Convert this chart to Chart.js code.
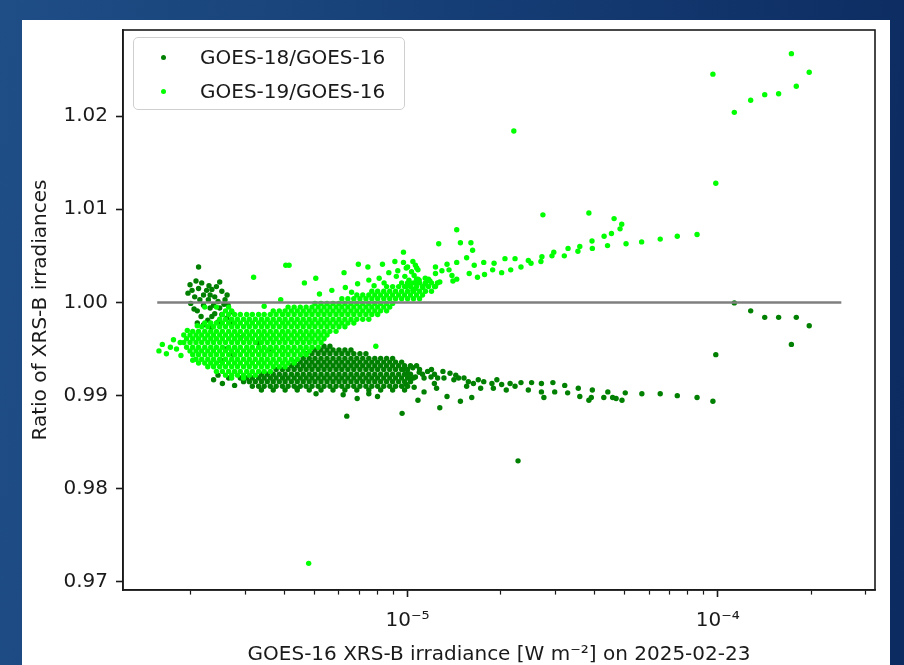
<!DOCTYPE html>
<html>
<head>
<meta charset="utf-8">
<script src="https://cdn.jsdelivr.net/npm/chart.js@4.4.1/dist/chart.umd.min.js"></script>
<style>
  html, body { margin: 0; padding: 0; }
  body {
    width: 904px; height: 665px; overflow: hidden; position: relative;
    background: linear-gradient(95deg, #1f4d85 0%, #163f77 45%, #0c2b60 100%);
  }
  #panel { position: absolute; left: 22px; top: 20px; width: 868px; height: 645px; background: #fff; }
  #chart { position: absolute; left: 0; top: 0; }
  #legend {
    position: absolute; left: 111px; top: 17px; width: 272px; height: 73px;
    box-sizing: border-box; border: 1px solid #cfcfcf; border-radius: 5px;
    background: rgba(255,255,255,0.8);
    font-family: "DejaVu Sans", sans-serif; font-size: 20px; color: #1a1a1a;
  }
  #legend .item { position: absolute; left: 0; width: 100%; height: 24px; line-height: 24px; }
  #legend .dot { position: absolute; left: 27px; top: 10px; width: 5px; height: 5px; border-radius: 50%; }
  #legend .txt { position: absolute; left: 66px; top: 0; white-space: nowrap; }
</style>
</head>
<body>
<div id="panel">
  <canvas id="chart" width="868" height="645"></canvas>
  <div id="legend"></div>
</div>
<script>
// irradiance values below are in units of 1e-6 W m^-2
const xUnit = 1e-6;

// GOES-18/GOES-16, dense band read row by row: [ratio, [irradiances]]
const goes18Rows = [
  [0.9953, [5.38, 5.62]],
  [0.9949, [5.03, 5.26, 5.50, 5.75, 6.01, 6.28, 6.57]],
  [0.9945, [4.71, 4.92, 5.15, 5.38, 5.62, 5.88, 6.14, 6.42, 6.71, 7.02, 7.34]],
  [0.9940, [4.61, 4.82, 5.03, 5.26, 5.50, 5.75, 6.01, 6.28, 6.57, 6.86, 7.17, 7.50, 7.84, 8.19, 8.56, 8.95]],
  [0.9936, [4.31, 4.51, 4.71, 4.92, 5.15, 5.38, 5.62, 5.88, 6.14, 6.42, 6.71, 7.02, 7.34, 7.67, 8.01, 8.38, 8.76, 9.15, 9.57]],
  [0.9932, [4.22, 4.41, 4.61, 4.82, 5.03, 5.26, 5.50, 5.75, 6.01, 6.28, 6.57, 6.86, 7.17, 7.50, 7.84, 8.19, 8.56, 8.95, 9.36, 9.78, 10.22, 10.69]],
  [0.9928, [3.77, 3.95, 4.12, 4.31, 4.51, 4.71, 4.92, 5.15, 5.38, 5.62, 5.88, 6.14, 6.42, 6.71, 7.02, 7.34, 7.67, 8.01, 8.38, 8.76, 9.15, 9.57, 10.0, 10.93, 11.94]],
  [0.9923, [3.38, 3.53, 3.69, 3.86, 4.03, 4.22, 4.41, 4.61, 4.82, 5.03, 5.26, 5.50, 5.75, 6.01, 6.28, 6.57, 6.86, 7.17, 7.50, 7.84, 8.19, 8.56, 8.95, 9.36, 9.78, 10.22, 11.17, 12.21]],
  [0.9919, [2.89, 3.03, 3.16, 3.31, 3.45, 3.61, 3.77, 3.95, 4.12, 4.31, 4.51, 4.71, 4.92, 5.15, 5.38, 5.62, 5.88, 6.14, 6.42, 6.71, 7.02, 7.34, 7.67, 8.01, 8.38, 8.76, 9.15, 9.57, 10.0, 10.45]],
  [0.9915, [2.96, 3.09, 3.23, 3.38, 3.53, 3.69, 3.86, 4.03, 4.22, 4.41, 4.61, 4.82, 5.03, 5.26, 5.50, 5.75, 6.01, 6.28, 6.57, 6.86, 7.17, 7.50, 7.84, 8.19, 8.56, 8.95, 9.36, 9.78, 10.22]],
  [0.9910, [3.16, 3.31, 3.45, 3.61, 3.77, 3.95, 4.12, 4.31, 4.51, 4.71, 4.92, 5.15, 5.38, 5.62, 5.88, 6.14, 6.42, 6.71, 7.02, 7.34, 7.67, 8.01, 8.38, 8.76, 9.15, 9.57, 10.0]],
  [0.9906, [3.38, 3.69, 4.03, 4.41, 4.82, 5.26, 5.75, 6.28, 6.86, 7.50, 8.19, 8.95, 9.78]]
];

// GOES-18/GOES-16, scattered points: [irradiance, ratio]
const goes18Points = [
  [2.12,1.0038],[2.48,1.0022],[1.99,1.0019],[2.08,1.0023],[2.17,1.0021],[2.02,1.0013],[2.12,1.0015],[2.25,1.0013],
  [2.34,1.0014],[2.20,1.0008],[2.06,1.0006],[2.31,1.0008],[2.39,1.0006],[2.52,1.0012],[2.14,1.0003],[2.28,1.0003],
  [2.45,1.0001],[2.58,1.0003],[2.37,0.9997],[2.20,0.9997],[2.31,0.9994],[2.48,0.9994],[2.64,0.9997],[2.39,0.9988],
  [2.52,0.9987],[2.71,0.9990],[2.34,0.9985],[2.61,0.9983],[2.45,0.9979],[2.71,0.9979],[1.96,1.0010],[2.00,0.9999],
  [2.10,0.9991],[2.16,0.9985],[2.27,0.9981],[2.05,0.9993],[2.42,1.0017],[2.29,1.0018],[2.62,1.0008],[2.56,0.9998],
  [2.20,0.9976],[2.33,0.9973],[2.10,0.9978],[2.60,0.9950],[2.75,0.9944],[2.50,0.9938],[2.90,0.9962],[3.30,0.9957],
  [3.60,0.9950],[2.37,0.9917],[2.53,0.9913],[2.65,0.9919],[2.77,0.9911],[2.45,0.9922],
  [9.7,0.9928],[10.0,0.9924],[10.4,0.9930],[10.2,0.9918],[9.9,0.9912],[10.6,0.9920],[10.9,0.9925],[10.5,0.9909],
  [11.3,0.9919],[11.9,0.9920],[12.5,0.9919],[13.1,0.9919],[13.7,0.9924],[14.1,0.9917],[14.6,0.9919],[15.2,0.9919],
  [15.7,0.9915],[16.3,0.9913],[16.9,0.9917],[17.6,0.9915],[18.7,0.9913],[18.9,0.9908],[20.1,0.9912],[21.4,0.9913],
  [22.2,0.9910],[23.2,0.9914],[24.5,0.9906],[25.1,0.9914],[27.0,0.9913],[27.0,0.9904],[27.5,0.9898],[29.4,0.9914],
  [29.8,0.9904],[32.1,0.9911],[32.8,0.9903],[35.5,0.9908],[35.9,0.9899],[38.4,0.9895],[39.4,0.9906],[39.1,0.9898],
  [42.9,0.9898],[44.2,0.9904],[45.8,0.9898],[47.0,0.9897],[49.1,0.9895],[50.3,0.9903],[56.9,0.9902],[65.2,0.9902],
  [74.0,0.9900],[85.7,0.9898],[96.4,0.9894],
  [16.1,0.9898],[14.8,0.9894],[13.4,0.9899],[12.4,0.9908],[12.7,0.9887],[11.3,0.9904],[10.8,0.9895],[9.6,0.9881],
  [11.6,0.9926],[12.2,0.9913],[13.0,0.9926],[14.3,0.9922],[15.5,0.9910],[17.2,0.9908],[19.4,0.9917],[20.8,0.9906],
  [98.5,0.9944],[113,0.99995],[127.6,0.9991],[141.6,0.9984],[157,0.9984],[179,0.9984],[197,0.9975],[172.6,0.9955],
  [22.7,0.9830],[5.07,0.9902],[6.37,0.9878],[6.88,0.9897],[4.40,0.9908],[6.20,0.9901],[7.50,0.9902],[8.00,0.9899]
];

// GOES-19/GOES-16, dense cluster read row by row: [ratio, [irradiances]]
const goes19Rows = [
  [1.0025, [10.69, 11.68]],
  [1.0021, [9.57, 10.0, 10.45, 10.93, 11.42, 11.94, 12.48]],
  [1.0017, [8.56, 8.95, 9.36, 9.78, 10.22, 10.69, 11.17, 11.68, 12.21]],
  [1.0012, [7.67, 8.01, 8.38, 8.76, 9.15, 9.57, 10.0, 10.45, 10.93, 11.42, 11.94]],
  [1.0008, [6.86, 7.17, 7.50, 7.84, 8.19, 8.56, 8.95, 9.36, 9.78, 10.22, 10.69, 11.17]],
  [1.0004, [6.14, 6.42, 6.71, 7.02, 7.34, 7.67, 8.01, 8.38, 8.76, 9.15, 9.57, 10.0, 10.45, 10.93]],
  [0.9999, [5.03, 5.26, 5.50, 5.75, 6.01, 6.28, 6.57, 6.86, 7.17, 7.50, 7.84, 8.19, 8.56, 8.95]],
  [0.9995, [2.22, 2.42, 2.65, 4.12, 4.31, 4.51, 4.71, 4.92, 5.15, 5.38, 5.62, 5.88, 6.14, 6.42, 6.71, 7.02, 7.34, 7.67, 8.01, 8.38, 8.76]],
  [0.9991, [2.59, 2.71, 3.69, 3.86, 4.03, 4.22, 4.41, 4.61, 4.82, 5.03, 5.26, 5.50, 5.75, 6.01, 6.28, 6.57, 6.86, 7.17, 7.50, 7.84, 8.19, 8.56]],
  [0.9987, [2.53, 2.65, 2.77, 2.89, 3.03, 3.16, 3.31, 3.45, 3.61, 3.77, 3.95, 4.12, 4.31, 4.51, 4.71, 4.92, 5.15, 5.38, 5.62, 5.88, 6.14, 6.42, 6.71, 7.02, 7.34, 7.67, 8.01]],
  [0.9982, [2.48, 2.59, 2.71, 2.83, 2.96, 3.09, 3.23, 3.38, 3.53, 3.69, 3.86, 4.03, 4.22, 4.41, 4.61, 4.82, 5.03, 5.26, 5.50, 5.75, 6.01, 6.28, 6.57, 6.86, 7.17, 7.50]],
  [0.9978, [2.22, 2.32, 2.42, 2.53, 2.65, 2.77, 2.89, 3.03, 3.16, 3.31, 3.45, 3.61, 3.77, 3.95, 4.12, 4.31, 4.51, 4.71, 4.92, 5.15, 5.38, 5.62, 5.88, 6.14, 6.42, 6.71]],
  [0.9974, [2.17, 2.27, 2.37, 2.48, 2.59, 2.71, 2.83, 2.96, 3.09, 3.23, 3.38, 3.53, 3.69, 3.86, 4.03, 4.22, 4.41, 4.61, 4.82, 5.03, 5.26, 5.50, 5.75, 6.01, 6.28]],
  [0.9969, [2.03, 2.12, 2.22, 2.32, 2.42, 2.53, 2.65, 2.77, 2.89, 3.03, 3.16, 3.31, 3.45, 3.61, 3.77, 3.95, 4.12, 4.31, 4.51, 4.71, 4.92, 5.15, 5.38, 5.62, 5.88]],
  [0.9965, [1.99, 2.08, 2.17, 2.27, 2.37, 2.48, 2.59, 2.71, 2.83, 2.96, 3.09, 3.23, 3.38, 3.53, 3.69, 3.86, 4.03, 4.22, 4.41, 4.61, 4.82, 5.03, 5.26, 5.50]],
  [0.9961, [1.94, 2.03, 2.12, 2.22, 2.32, 2.42, 2.53, 2.65, 2.77, 2.89, 3.03, 3.16, 3.31, 3.45, 3.61, 3.77, 3.95, 4.12, 4.31, 4.51, 4.71, 4.92, 5.15, 5.38]],
  [0.9957, [1.90, 1.99, 2.08, 2.17, 2.27, 2.37, 2.48, 2.59, 2.71, 2.83, 2.96, 3.09, 3.23, 3.38, 3.53, 3.69, 3.86, 4.03, 4.22, 4.41, 4.61, 4.82, 5.03, 5.26]],
  [0.9952, [1.94, 2.03, 2.12, 2.22, 2.32, 2.42, 2.53, 2.65, 2.77, 2.89, 3.03, 3.16, 3.31, 3.45, 3.61, 3.77, 3.95, 4.12, 4.31, 4.51, 4.71, 4.92, 5.15]],
  [0.9948, [1.99, 2.08, 2.17, 2.27, 2.37, 2.48, 2.59, 2.71, 2.83, 2.96, 3.09, 3.23, 3.38, 3.53, 3.69, 3.86, 4.03, 4.22, 4.41, 4.61, 4.82]],
  [0.9944, [2.03, 2.12, 2.22, 2.32, 2.42, 2.53, 2.65, 2.77, 2.89, 3.03, 3.16, 3.31, 3.45, 3.61, 3.77, 3.95, 4.12, 4.31, 4.51, 4.71]],
  [0.9939, [2.08, 2.17, 2.27, 2.37, 2.48, 2.59, 2.71, 2.83, 2.96, 3.09, 3.23, 3.38, 3.53, 3.69, 3.86, 4.03, 4.22, 4.41]],
  [0.9935, [2.12, 2.22, 2.32, 2.42, 2.53, 2.65, 2.77, 2.89, 3.03, 3.16, 3.31, 3.45, 3.61, 3.77, 3.95, 4.12, 4.31]],
  [0.9931, [2.27, 2.37, 2.48, 2.59, 2.71, 2.83, 2.96, 3.09, 3.23, 3.38, 3.53, 3.69, 3.86, 4.03]],
  [0.9926, [2.42, 2.53, 2.65, 2.77, 2.89, 3.03, 3.16, 3.31, 3.45, 3.61]],
  [0.9922, [2.59, 2.71, 2.83, 2.96, 3.09, 3.23]],
  [0.9919, [2.71, 2.96]]
];

// GOES-19/GOES-16, scattered points: [irradiance, ratio]
const goes19Points = [
  [1.58,0.9948],[1.62,0.9955],[1.67,0.9945],[1.72,0.9952],[1.76,0.9960],[1.80,0.9950],[1.85,0.9957],[1.90,0.9965],
  [1.86,0.9943],[1.95,0.9970],[2.03,0.9938],[2.10,0.9975],
  [4.05,1.0040],[4.15,1.0040],[3.19,1.0027],[4.65,1.0021],[5.06,1.0026],[6.24,1.0032],[6.94,1.0041],[7.45,1.0038],
  [8.30,1.0041],[9.10,1.0044],[8.70,1.0032],[9.20,1.0028],[10.6,1.0040],[10.7,1.0021],[11.4,1.0026],
  [5.70,1.0013],[6.30,1.0016],[6.90,1.0020],[7.50,1.0024],[8.10,1.0026],[9.30,1.0034],[9.90,1.0037],[5.20,1.0009],
  [6.60,1.0011],[7.80,1.0018],[8.40,1.0021],[3.45,0.9996],[3.90,1.0003],
  [7.90,0.9953],[4.80,0.9720],[22.0,1.0184],
  [9.7,1.0043],[10.0,1.0038],[10.3,1.0033],[9.8,1.0028],[10.1,1.0024],[10.5,1.0029],[10.8,1.0035],[10.2,1.0019],
  [10.6,1.0015],[9.9,1.0017],[10.4,1.0044],[10.9,1.0024],
  [27.3,1.0094],[38.4,1.0096],[46.3,1.0090],[49.0,1.0084],[48.4,1.0079],[45.4,1.0074],[43.0,1.0071],[44.1,1.0061],
  [39.3,1.0066],[39.4,1.0058],[35.9,1.0060],[35.4,1.0055],[32.9,1.0058],[32.0,1.0050],[29.6,1.0054],[29.2,1.0050],
  [27.1,1.0049],[26.9,1.0044],[25.0,1.0042],[24.5,1.0045],[23.2,1.0038],[22.2,1.0047],[21.5,1.0035],[20.6,1.0047],
  [20.1,1.0032],[19.0,1.0042],[18.8,1.0035],[17.6,1.0043],[17.7,1.0030],[16.8,1.0027],[16.4,1.0040],[16.0,1.0064],
  [16.2,1.0056],[15.5,1.0048],[15.8,1.0031],[14.8,1.0064],[14.4,1.0078],[14.4,1.0043],[14.4,1.0025],[14.0,1.0023],
  [13.6,1.0035],[13.4,1.0041],[13.9,1.0029],[12.9,1.0034],[12.6,1.0063],[12.7,1.0022],[12.3,1.0038],[12.3,1.0031],
  [12.3,1.0017],[11.8,1.0023],[11.4,1.0020],[11.2,1.0016],[10.8,1.0025],[10.7,1.0037],[10.4,1.0013],[10.2,1.0021],
  [9.7,1.0054],
  [50.6,1.0063],[56.8,1.0065],[65.2,1.0068],[74.0,1.0071],[85.7,1.0073],[96.4,1.0245],[172.6,1.0267],[197,1.0247],
  [179,1.0232],[157,1.0224],[141.6,1.0223],[127.6,1.0217],[113,1.0204],[98.5,1.0128]
];

// unity reference line
const unityLine = [[1.56, 1.0], [250, 1.0]];

// axes
const xMin = 1.21e-6, xMax = 3.21e-4;
const yMin = 0.96914, yMax = 1.02924;
const xTickValues = [2e-6, 3e-6, 4e-6, 5e-6, 6e-6, 7e-6, 8e-6, 9e-6, 1e-5,
                     2e-5, 3e-5, 4e-5, 5e-5, 6e-5, 7e-5, 8e-5, 9e-5, 1e-4, 2e-4, 3e-4];
const xTickLabels = ['', '', '', '', '', '', '', '', '10⁻⁵',
                     '', '', '', '', '', '', '', '', '10⁻⁴', '', ''];
const yTickValues = [0.97, 0.98, 0.99, 1.00, 1.01, 1.02];
const yTickLabels = ['0.97', '0.98', '0.99', '1.00', '1.01', '1.02'];

const textColor = '#1a1a1a';
const fontFamily = '"DejaVu Sans", sans-serif';

function rowsToPoints(rows) {
  const pts = [];
  rows.forEach(([y, xs]) => xs.forEach(x => pts.push({x: x * xUnit, y: y})));
  return pts;
}
function pairsToPoints(pairs) {
  return pairs.map(([x, y]) => ({x: x * xUnit, y: y}));
}

const framePlugin = {
  id: 'frame',
  afterDatasetsDraw(chart) {
    const {ctx, chartArea: a} = chart;
    ctx.save();
    ctx.strokeStyle = textColor;
    ctx.lineWidth = 1.6;
    ctx.strokeRect(a.left, a.top, a.right - a.left, a.bottom - a.top);
    ctx.restore();
  }
};

const htmlLegend = {
  id: 'htmlLegend',
  afterUpdate(chart) {
    const box = document.getElementById('legend');
    box.innerHTML = '';
    chart.data.datasets.filter(d => d.inLegend).forEach((d, i) => {
      const item = document.createElement('div');
      item.className = 'item';
      item.style.top = (7 + i * 34) + 'px';
      const dot = document.createElement('span');
      dot.className = 'dot';
      dot.style.background = d.backgroundColor;
      const txt = document.createElement('span');
      txt.className = 'txt';
      txt.textContent = d.label;
      item.appendChild(dot);
      item.appendChild(txt);
      box.appendChild(item);
    });
  }
};

new Chart(document.getElementById('chart'), {
  type: 'scatter',
  data: {
    datasets: [
      {
        label: 'GOES-18/GOES-16',
        inLegend: true,
        data: rowsToPoints(goes18Rows).concat(pairsToPoints(goes18Points)),
        backgroundColor: 'green',
        borderWidth: 0,
        pointRadius: 2.7,
        order: 3
      },
      {
        label: 'GOES-19/GOES-16',
        inLegend: true,
        data: rowsToPoints(goes19Rows).concat(pairsToPoints(goes19Points)),
        backgroundColor: 'lime',
        borderWidth: 0,
        pointRadius: 2.7,
        order: 2
      },
      {
        type: 'line',
        label: 'unity',
        data: pairsToPoints(unityLine),
        borderColor: '#7f7f7f',
        borderWidth: 2.5,
        pointRadius: 0,
        order: 1
      }
    ]
  },
  options: {
    responsive: false,
    animation: false,
    events: [],
    layout: { padding: { left: 0, top: 10, right: 15, bottom: 0 } },
    plugins: { legend: { display: false }, tooltip: { enabled: false } },
    scales: {
      x: {
        type: 'logarithmic',
        min: xMin,
        max: xMax,
        afterBuildTicks: s => { s.ticks = xTickValues.map(v => ({value: v})); },
        afterFit: s => { s.height = 75; s.paddingLeft = 0; s.paddingRight = 0; },
        ticks: {
          autoSkip: false,
          maxRotation: 0,
          padding: 14,
          color: textColor,
          font: { family: fontFamily, size: 20, lineHeight: 1 },
          callback: (v, i) => xTickLabels[i]
        },
        grid: {
          drawOnChartArea: false,
          tickLength: 7,
          tickColor: textColor,
          tickWidth: c => xTickLabels[c.index] ? 1.6 : 1.2,
          tickBorderDash: c => xTickLabels[c.index] ? [] : [4, 20]
        },
        border: { color: textColor, width: 1.6 },
        title: {
          display: true,
          text: 'GOES-16 XRS-B irradiance [W m⁻²] on 2025-02-23',
          color: textColor,
          font: { family: fontFamily, size: 20, lineHeight: 1 },
          padding: { top: 0, bottom: 0 }
        }
      },
      y: {
        min: yMin,
        max: yMax,
        afterBuildTicks: s => { s.ticks = yTickValues.map(v => ({value: v})); },
        afterFit: s => { s.width = 101; s.paddingTop = 0; s.paddingBottom = 0; },
        ticks: {
          padding: 8,
          color: textColor,
          font: { family: fontFamily, size: 20, lineHeight: 1 },
          callback: (v, i) => yTickLabels[i]
        },
        grid: {
          drawOnChartArea: false,
          tickLength: 7,
          tickColor: textColor,
          tickWidth: 1.6
        },
        border: { color: textColor, width: 1.6 },
        title: {
          display: true,
          text: 'Ratio of XRS-B irradiances',
          color: textColor,
          font: { family: fontFamily, size: 20, lineHeight: 1.2 },
          padding: { top: 7, bottom: 0 }
        }
      }
    }
  },
  plugins: [framePlugin, htmlLegend]
});
</script>
</body>
</html>
